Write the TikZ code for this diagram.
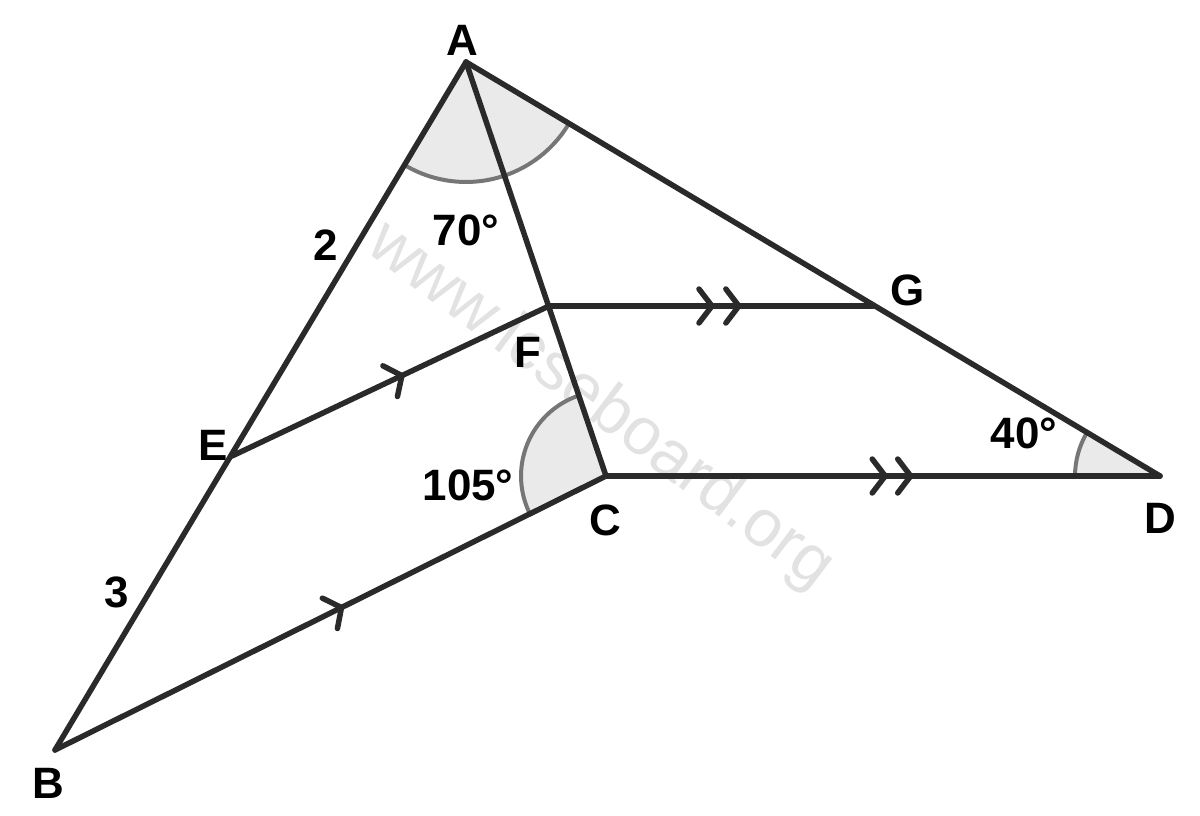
\documentclass[tikz,border=0pt]{standalone}
\usepackage{fontspec}
\setmainfont{Liberation Sans}
\usetikzlibrary{angles,decorations.markings}
\definecolor{lncol}{HTML}{2A2A2A}
\definecolor{arccol}{HTML}{767676}
\definecolor{fillcol}{HTML}{EAEAEA}
\definecolor{wmcol}{HTML}{E2E2E2}
\begin{document}
\begin{tikzpicture}[x=0.02cm,y=-0.02cm,
  ln/.style={draw=lncol,line width=0.11cm,line cap=round,line join=round},
  lbl/.style={font=\fontsize{25}{27}\selectfont\bfseries,text=black,inner sep=0pt},
  wm/.style={font=\fontsize{38}{40}\selectfont,text=wmcol,inner sep=0pt},
  angarc/.style={draw=arccol,fill=fillcol,line width=0.08cm},
  chev/.style={postaction={decorate,decoration={markings,
     mark=at position #1 with {\draw[draw=lncol,line width=0.11cm,line cap=round,line join=round] (-0.26cm,0.34cm)--(0,0)--(-0.26cm,-0.34cm);}}}}
]
\useasboundingbox (0,0) rectangle (1200,815);
% watermark
\node[wm,rotate=-37] (wm) at (600,406) {www.icseboard.org};
% points
\coordinate (A) at (466,62);
\coordinate (B) at (55,750);
\coordinate (C) at (606,476);
\coordinate (D) at (1160,476);
\coordinate (E) at (232,456);
\coordinate (F) at (549,306);
\coordinate (G) at (873,306);
% angle marks
\pic[angarc,angle radius=2.4cm] {angle=B--A--D};
\pic[angarc,angle radius=1.7cm] {angle=F--C--B};
\pic[angarc,angle radius=1.7cm] {angle=A--D--C};
% lines
\draw[ln] (A) -- (B);
\draw[ln] (A) -- (D);
\draw[ln] (A) -- (C);
\draw[ln,chev=0.536] (E) -- (F);
\draw[ln,chev=0.52] (B) -- (C);
\draw[ln,chev=0.503,chev=0.586] (F) -- (G);
\draw[ln,chev=0.504,chev=0.55] (C) -- (D);
% labels
\node[lbl] (lA) at (462,40) {A};
\node[lbl] (lB) at (48,783) {B};
\node[lbl] (lC) at (605,520) {C};
\node[lbl] (lD) at (1160,518) {D};
\node[lbl] (lE) at (213,445) {E};
\node[lbl] (lF) at (528,352) {F};
\node[lbl] (lG) at (908,290) {G};
\node[lbl] (l2) at (326,245) {2};
\node[lbl] (l3) at (117,592) {3};
\node[lbl] (a70) at (466,230) {70°};
\node[lbl] (a105) at (468,485) {105°};
\node[lbl] (a40) at (1024,433) {40°};
\end{tikzpicture}
\end{document}
